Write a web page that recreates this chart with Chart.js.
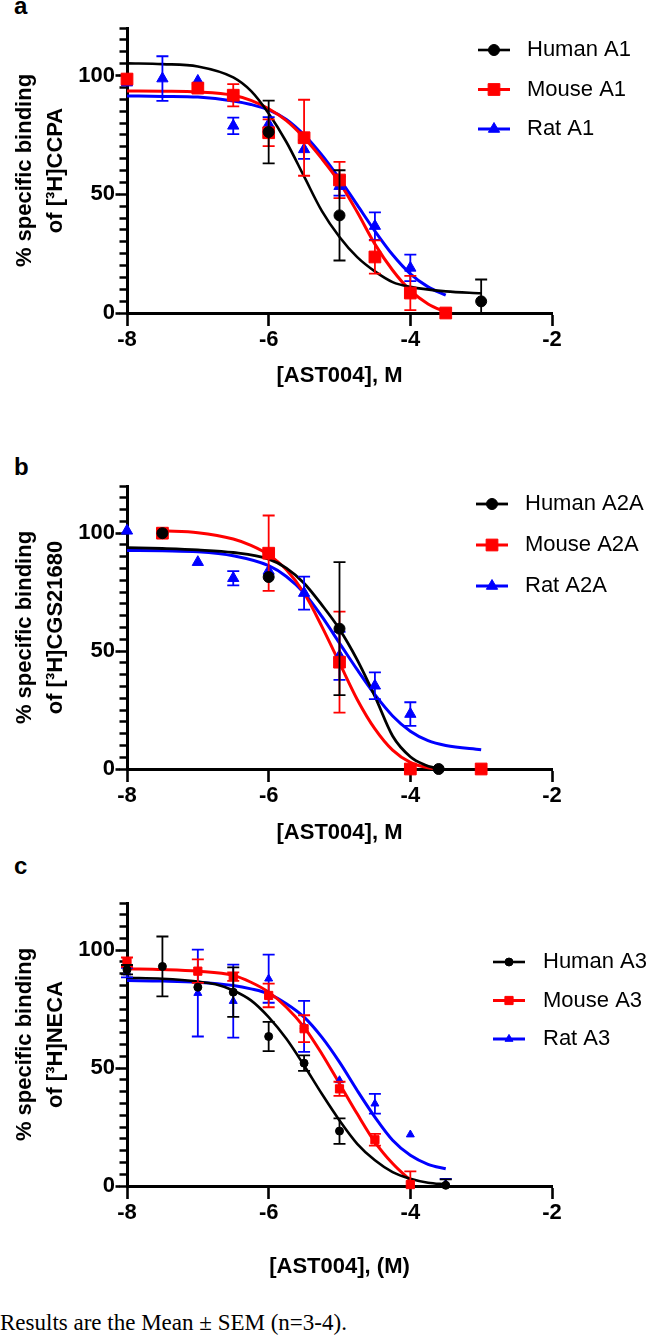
<!DOCTYPE html>
<html>
<head>
<meta charset="utf-8">
<script src="https://cdn.jsdelivr.net/npm/chart.js@4.4.0/dist/chart.umd.min.js"></script>
<style>
  body{margin:0;background:#fff;}
  #page{position:relative;width:648px;height:1341px;background:#fff;overflow:hidden;font-family:"Liberation Sans",Arial,sans-serif;}
  canvas{position:absolute;left:0;}
  .tag{position:absolute;left:14px;font-weight:bold;font-size:24px;line-height:24px;}
  .note{position:absolute;left:0;top:1311px;font-family:"Liberation Serif","Times New Roman",serif;font-size:23px;line-height:23px;white-space:nowrap;}
</style>
</head>
<body>
<div id="page">
  <div class="tag" style="top:-6px">a</div>
  <div class="tag" style="top:455px">b</div>
  <div class="tag" style="top:854px">c</div>
  <canvas id="chartA" width="648" height="400" style="top:0"></canvas>
  <canvas id="chartB" width="648" height="450" style="top:400px"></canvas>
  <canvas id="chartC" width="648" height="440" style="top:850px"></canvas>
  <div class="note">Results are the Mean ± SEM (n=3-4).</div>
</div>
<script>
// ---- panel a : [3H]CCPA ----
const aLabels = ["Human A1", "Mouse A1", "Rat A1"];
const aHumanX = [-6, -5, -3];
const aHumanY = [76.2, 41.1, 4.9];
const aHumanErr = [13.2, 19, 9.2];
const aMouseX = [-8, -7, -6.5, -6, -5.5, -5, -4.5, -4, -3.5];
const aMouseY = [98.5, 94.7, 91.7, 75.9, 73.8, 56, 23.6, 8.4, 0];
const aMouseErr = [0, 0, 4.7, 5.6, 16, 7.6, 7, 7.2, 0];
const aRatX = [-8, -7.5, -7, -6.5, -6, -5.5, -5, -4.5, -4];
const aRatY = [97, 98.7, 97.7, 78.8, 79.5, 68.9, 53.4, 36.6, 19];
const aRatErr = [0, 9.4, 0, 3.5, 3, 4, 4, 5.8, 5.6];
// fitted curves
const aHumanFitX = [-8, -7.5, -7, -6.5, -6.25, -6, -5.75, -5.5, -5.25, -5, -4.75, -4.5, -4.25, -4, -3.5, -3];
const aHumanFitY = [105.1, 104.8, 103.8, 99.2, 93.5, 84, 72, 57.5, 43, 32, 23.5, 17.5, 13, 11, 9.1, 8.3];
const aMouseFitX = [-8, -7.5, -7, -6.5, -6.25, -6, -5.75, -5.5, -5.25, -5, -4.75, -4.5, -4.25, -4, -3.75, -3.5];
const aMouseFitY = [93.5, 93.4, 93.1, 91.7, 89.5, 86, 81, 73.8, 65, 55, 42.5, 29, 18, 9.5, 3.8, 0.3];
const aRatFitX = [-8, -7.5, -7, -6.5, -6.25, -6, -5.75, -5.5, -5.25, -5, -4.75, -4.5, -4.25, -4, -3.75, -3.5];
const aRatFitY = [91.4, 91.2, 90.9, 89.3, 87.8, 85.5, 81.5, 75, 66.5, 56.5, 45.5, 34.5, 24.5, 16.5, 11, 7.5];

// ---- panel b : [3H]CGS21680 ----
const bLabels = ["Human A2A", "Mouse A2A", "Rat A2A"];
const bHumanX = [-7.5, -6, -5, -3.6];
const bHumanY = [100, 81.4, 59.5, 0];
const bHumanErr = [0, 0, 28.2, 0];
const bMouseX = [-7.5, -6, -5, -4, -3];
const bMouseY = [100, 91.5, 45.3, 0, 0];
const bMouseErr = [0, 16, 21.4, 0, 0];
const bRatX = [-8, -7, -6.5, -6, -5.5, -5, -4.5, -4];
const bRatY = [101, 87.7, 80.9, 84, 74.6, 48, 35.3, 23.3];
const bRatErr = [0, 0, 3, 0, 7, 10.2, 5.7, 5];
const bHumanFitX = [-8, -7.5, -7, -6.5, -6, -5.75, -5.5, -5.25, -5, -4.75, -4.5, -4.25, -4, -3.8, -3.6];
const bHumanFitY = [93.9, 93.5, 92.9, 91.8, 89, 85.2, 78.8, 69.6, 59.3, 46.3, 30.8, 14, 5.2, 1.8, 0];
const bMouseFitX = [-7.5, -7, -6.5, -6.25, -6, -5.75, -5.5, -5.25, -5, -4.75, -4.5, -4.25, -4, -3.75, -3.6];
const bMouseFitY = [101, 100.2, 97.5, 94.8, 90.8, 84.5, 74.6, 60.5, 45, 29.5, 17, 8, 2.8, 0.5, 0];
const bRatFitX = [-8, -7.5, -7, -6.5, -6, -5.75, -5.5, -5.25, -5, -4.75, -4.5, -4.25, -4, -3.75, -3.5, -3];
const bRatFitY = [92.7, 92.5, 92.1, 90.4, 86.2, 81.6, 74.6, 64.7, 53.4, 42.1, 31.5, 22.5, 16, 12, 10, 8.2];

// ---- panel c : [3H]NECA ----
const cLabels = ["Human A3", "Mouse A3", "Rat A3"];
const cHumanX = [-8, -7.5, -7, -6.5, -6, -5.5, -5, -3.5];
const cHumanY = [91.7, 93.1, 84.3, 82.2, 63.4, 52.1, 23.3, 0.3];
const cHumanErr = [2, 12.7, 0, 10.5, 6.2, 3.3, 5.4, 2.5];
const cMouseX = [-8, -7, -6.5, -6, -5.5, -5, -4.5, -4];
const cMouseY = [94.9, 91.1, 88.8, 80.8, 66.7, 41.2, 19.6, 0.6];
const cMouseErr = [2, 5, 1.8, 5, 5.7, 3, 2.5, 5.6];
const cRatX = [-8, -7, -6.5, -6, -5.5, -5, -4.5, -4, -3.5];
const cRatY = [90.5, 81.8, 78.4, 87.9, 67.7, 44.8, 34.9, 21.8, 1];
const cRatErr = [2, 18.4, 15.5, 10.2, 10.8, 0, 4.2, 0, 2];
const cHumanFitX = [-8, -7.5, -7, -6.75, -6.5, -6.25, -6, -5.75, -5.5, -5.25, -5, -4.75, -4.5, -4.25, -4, -3.75, -3.5];
const cHumanFitY = [88.3, 87.9, 86.7, 85.5, 82.9, 78.7, 71.6, 62.4, 51.1, 39.1, 27.8, 17.9, 10.9, 5.9, 3.1, 1.4, 0.7];
const cMouseFitX = [-8, -7.5, -7, -6.5, -6.25, -6, -5.75, -5.5, -5.25, -5, -4.75, -4.5, -4.25, -4];
const cMouseFitY = [92.1, 91.8, 91.1, 89.3, 86.4, 82.2, 75.8, 67.4, 56.1, 43.4, 30.6, 18.6, 9.5, 2.4];
const cRatFitX = [-8, -7.5, -7, -6.5, -6.25, -6, -5.75, -5.5, -5.25, -5, -4.75, -4.5, -4.25, -4, -3.75, -3.5];
const cRatFitY = [87.1, 86.9, 86.4, 85, 83.6, 81.5, 77.3, 71.6, 63.1, 52.5, 40.5, 29.2, 19.4, 13, 9.2, 7.3];

// styles
const COLORS = ["#000000", "#ff0000", "#0000ff"];
const SHAPES = ["circle", "rect", "triangle"];
const FONT = '"Liberation Sans", Arial, sans-serif';
Chart.defaults.font.family = FONT;
Chart.defaults.color = "#000";

function pointsOf(xs, ys){ return xs.map((x, i) => ({ x: x, y: ys[i] })); }

// SEM bars, drawn just before each marker dataset
const semBars = {
  id: "semBars",
  beforeDatasetDraw(chart, args, opts){
    const ds = chart.data.datasets[args.index];
    if(!ds.errors) return;
    const xs = chart.scales.x, ys = chart.scales.y, ctx = chart.ctx;
    ctx.save();
    ctx.strokeStyle = ds.borderColor;
    ctx.lineWidth = opts.width;
    ds.data.forEach((p, i) => {
      const e = ds.errors[i];
      if(!e) return;
      const px = xs.getPixelForValue(p.x);
      const hi = ys.getPixelForValue(p.y + e);
      const lowVal = p.y - e;
      const lo = ys.getPixelForValue(Math.max(lowVal, ys.min));
      ctx.beginPath();
      ctx.moveTo(px, hi); ctx.lineTo(px, lo);
      ctx.moveTo(px - opts.cap, hi); ctx.lineTo(px + opts.cap, hi);
      if(lowVal >= ys.min){ ctx.moveTo(px - opts.cap, lo); ctx.lineTo(px + opts.cap, lo); }
      ctx.stroke();
    });
    ctx.restore();
  }
};

// legend sitting inside the plot, upper right
const sideLegend = {
  id: "sideLegend",
  afterDraw(chart, args, opts){
    const ctx = chart.ctx;
    ctx.save();
    let row = 0;
    chart.data.datasets.forEach(ds => {
      if(!ds.legendLine) return;
      const y = opts.top + row * opts.gap;
      ctx.strokeStyle = ds.borderColor;
      ctx.fillStyle = ds.backgroundColor;
      ctx.lineWidth = ds.legendLine;
      ctx.beginPath();
      ctx.moveTo(opts.left, y);
      ctx.lineTo(opts.left + opts.lineLen, y);
      ctx.stroke();
      const cx = opts.left + opts.lineLen / 2;
      ctx.lineWidth = 1;
      if(Chart.helpers && Chart.helpers.drawPoint){
        Chart.helpers.drawPoint(ctx, { pointStyle: ds.pointStyle, radius: ds.pointRadius, borderWidth: 1, rotation: 0 }, cx, y);
      }else{
        ctx.beginPath(); ctx.arc(cx, y, ds.pointRadius, 0, Math.PI * 2); ctx.fill();
      }
      ctx.fillStyle = "#000";
      ctx.font = "22px " + FONT;
      ctx.textBaseline = "middle";
      ctx.textAlign = "left";
      ctx.fillText(ds.label, opts.textX, y);
      row++;
    });
    ctx.restore();
  }
};

function makePanel(canvasId, labels, pts, fits, look){
  const datasets = [];
  for(let s = 0; s < 3; s++){
    datasets.push({
      label: labels[s] + " fit",
      data: pointsOf(fits[s][0], fits[s][1]),
      showLine: true,
      borderColor: COLORS[s],
      borderWidth: look.curveWidth[s],
      pointRadius: 0,
      cubicInterpolationMode: "monotone",
      order: 10 + s,
      clip: false,
      yAxisID: "y"
    });
  }
  for(let s = 0; s < 3; s++){
    datasets.push({
      label: labels[s],
      data: pointsOf(pts[s][0], pts[s][1]),
      errors: pts[s][2],
      showLine: false,
      pointStyle: SHAPES[s],
      pointRadius: look.radius[s],
      pointHoverRadius: look.radius[s],
      backgroundColor: COLORS[s],
      borderColor: COLORS[s],
      borderWidth: 1,
      order: s,
      clip: false,
      legendLine: look.curveWidth[s],
      yAxisID: "y"
    });
  }

  const bold22 = { family: FONT, size: 22, weight: "bold" };
  return new Chart(document.getElementById(canvasId), {
    type: "scatter",
    data: { datasets: datasets },
    options: {
      responsive: false,
      animation: false,
      devicePixelRatio: 1,
      events: [],
      layout: { padding: { left: 0, top: look.padTop, right: 96, bottom: 0 } },
      scales: {
        x: {
          type: "linear", position: "bottom", min: -8, max: -2,
          afterFit: s => { s.height = look.xAxisH; },
          ticks: { stepSize: 2, padding: look.xTickPad, font: bold22, color: "#000", autoSkip: false, maxRotation: 0, callback: v => String(v) },
          grid: { drawOnChartArea: false, tickLength: 13, tickWidth: 2.6, tickColor: "#000" },
          border: { display: true, color: "#000", width: 3 },
          title: { display: true, text: look.xTitle, font: bold22, color: "#000", padding: { top: 0, bottom: look.xTitlePad } }
        },
        // labelled ticks 0 / 50 / 100, outer part of the long tick marks
        y: {
          type: "linear", position: "left", weight: 1, min: 0, max: 120,
          afterFit: s => { s.width = 119.5; },
          ticks: { stepSize: 50, includeBounds: false, padding: 0.5, font: bold22, color: "#000", autoSkip: false },
          grid: { drawOnChartArea: false, tickLength: 4, tickWidth: 2.6, tickColor: "#000" },
          border: { display: false },
          title: { display: true, text: look.yTitle, font: { family: FONT, size: 22, weight: "bold", lineHeight: 1.4 }, color: "#000", padding: { top: 9.6, bottom: 0 } }
        },
        // minor ticks every 5, carries the axis line
        yMinor: {
          axis: "y", type: "linear", position: "left", weight: 0, min: 0, max: 120, display: true,
          afterFit: s => { s.width = 7.5; },
          ticks: { display: true, stepSize: 5, autoSkip: false, maxTicksLimit: 30, padding: 0, font: { size: 1 }, callback: () => "" },
          grid: { display: true, drawOnChartArea: false, drawTicks: true, tickLength: 7.5, tickWidth: 2.5, tickColor: "#000", color: "#000" },
          border: { display: true, color: "#000", width: 3 }
        }
      },
      plugins: {
        legend: { display: false },
        tooltip: { enabled: false },
        semBars: { cap: 6, width: 1.8 },
        sideLegend: look.legend
      }
    },
    plugins: [semBars, sideLegend]
  });
}

makePanel("chartA", aLabels,
  [[aHumanX, aHumanY, aHumanErr], [aMouseX, aMouseY, aMouseErr], [aRatX, aRatY, aRatErr]],
  [[aHumanFitX, aHumanFitY], [aMouseFitX, aMouseFitY], [aRatFitX, aRatFitY]],
  { padTop: 28, xAxisH: 87, xTickPad: 1, xTitlePad: 10.8, xTitle: "[AST004], M",
    yTitle: ["% specific binding", "of [³H]CCPA"],
    curveWidth: [2.6, 3, 3], radius: [5.5, 8.3, 6.5],
    legend: { left: 478, lineLen: 32, textX: 527, top: 50, gap: 39.5 } });

makePanel("chartB", bLabels,
  [[bHumanX, bHumanY, bHumanErr], [bMouseX, bMouseY, bMouseErr], [bRatX, bRatY, bRatErr]],
  [[bHumanFitX, bHumanFitY], [bMouseFitX, bMouseFitY], [bRatFitX, bRatFitY]],
  { padTop: 86, xAxisH: 81, xTickPad: 1, xTitlePad: 3.8, xTitle: "[AST004], M",
    yTitle: ["% specific binding", "of [³H]CGS21680"],
    curveWidth: [2.8, 3, 3], radius: [5.5, 8.3, 6.5],
    legend: { left: 476, lineLen: 32, textX: 525, top: 104, gap: 41 } });

makePanel("chartC", cLabels,
  [[cHumanX, cHumanY, cHumanErr], [cMouseX, cMouseY, cMouseErr], [cRatX, cRatY, cRatErr]],
  [[cHumanFitX, cHumanFitY], [cMouseFitX, cMouseFitY], [cRatFitX, cRatFitY]],
  { padTop: 53, xAxisH: 104, xTickPad: 1, xTitlePad: 9.8, xTitle: "[AST004], (M)",
    yTitle: ["% specific binding", "of [³H]NECA"],
    curveWidth: [2.6, 3, 3], radius: [4, 5.8, 4.6],
    legend: { left: 493, lineLen: 32, textX: 543, top: 112, gap: 38.5 } });
</script>
</body>
</html>
